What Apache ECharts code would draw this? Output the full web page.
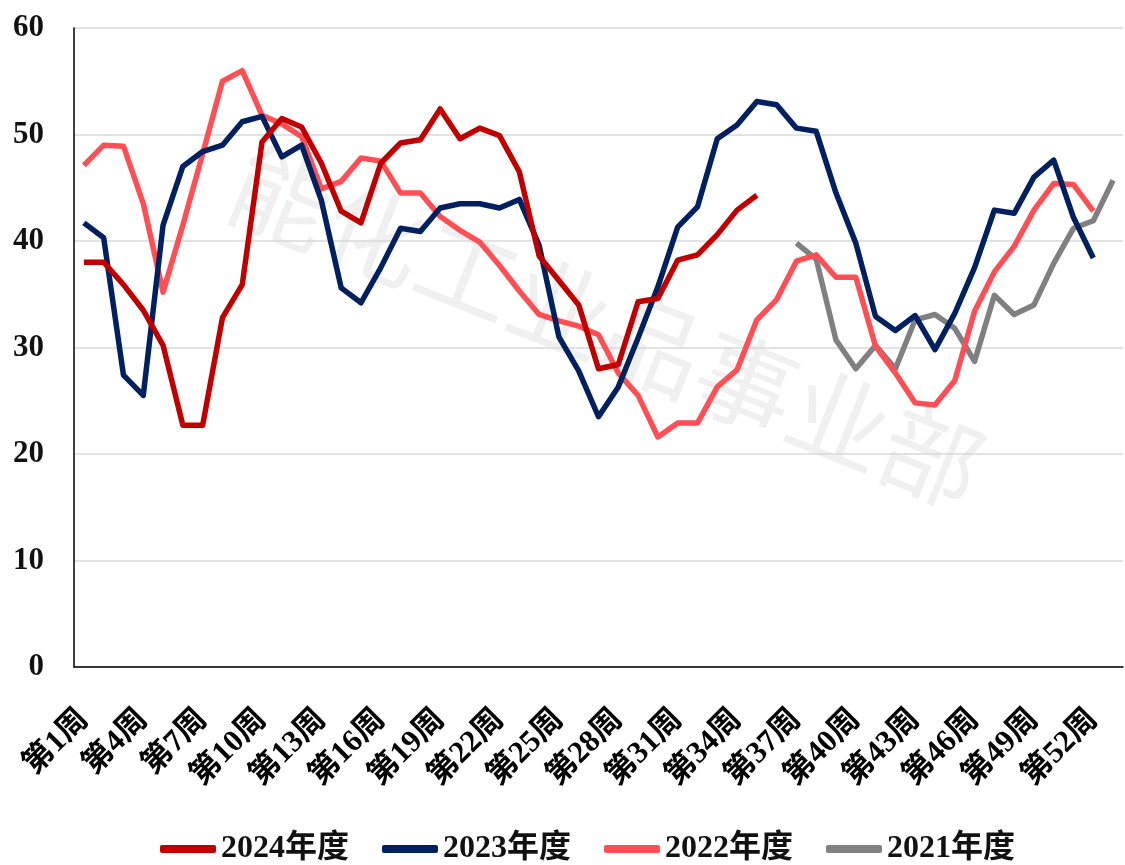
<!DOCTYPE html>
<html>
<head>
<meta charset="utf-8">
<title>周度对比</title>
<script src="https://cdn.jsdelivr.net/npm/echarts@6/dist/echarts.min.js"></script>
<style>
  html, body { margin: 0; padding: 0; background: #fff; }
  #chart { width: 1125px; height: 865px; }
</style>
</head>
<body>
<div id="chart"></div>
<script>
// 第1周 ~ 第53周
var weeks = []
for (var w = 1; w <= 53; w++) weeks.push('第' + w + '周')

var yTicks = [0, 10, 20, 30, 40, 50, 60]

var data2024 = [38.0, 38.0, 35.9, 33.5, 30.2, 22.7, 22.7, 32.8, 35.9, 49.3,
  51.5, 50.7, 47.3, 42.8, 41.7, 47.3, 49.2, 49.5, 52.4, 49.6,
  50.6, 49.9, 46.5, 38.6, 36.3, 34.0, 28.0, 28.4, 34.3, 34.6,
  38.2, 38.7, 40.6, 42.9, 44.3]

var data2023 = [41.7, 40.3, 27.4, 25.5, 41.5, 47.0, 48.4, 49.0, 51.2, 51.7,
  47.9, 49.0, 43.8, 35.6, 34.2, 37.5, 41.2, 40.9, 43.1, 43.5,
  43.5, 43.1, 43.9, 39.6, 31.0, 27.8, 23.5, 26.3, 30.9, 35.7,
  41.3, 43.2, 49.6, 50.9, 53.1, 52.8, 50.6, 50.3, 44.5, 39.8,
  32.9, 31.6, 33.0, 29.8, 33.2, 37.5, 42.9, 42.6, 46.0, 47.6,
  42.2, 38.4]

var data2022 = [47.1, 49.0, 48.9, 43.5, 35.2, 41.5, 48.2, 55.0, 56.0, 51.8,
  51.0, 49.8, 44.9, 45.6, 47.8, 47.5, 44.5, 44.5, 42.3, 41.0,
  39.9, 37.7, 35.3, 33.1, 32.5, 32.0, 31.2, 27.6, 25.5, 21.6,
  22.9, 22.9, 26.3, 27.9, 32.6, 34.5, 38.1, 38.7, 36.6, 36.6,
  30.1, 27.6, 24.8, 24.6, 26.9, 33.4, 37.1, 39.5, 42.9, 45.4,
  45.3, 42.8]

// 2021年度 从第37周开始有数据
var data2021 = [null, null, null, null, null, null, null, null, null, null,
  null, null, null, null, null, null, null, null, null, null,
  null, null, null, null, null, null, null, null, null, null,
  null, null, null, null, null, null,
  39.8, 38.3, 30.7, 28.0, 30.2, 28.0, 32.6, 33.1, 31.8, 28.7,
  34.9, 33.1, 34.0, 37.9, 41.2, 41.9, 45.7]

var seriesNames = ['2024年度', '2023年度', '2022年度', '2021年度']
var seriesColors = ['#C00000', '#002060', '#FF4F55', '#808080']
var seriesData = [data2024, data2023, data2022, data2021]

var font = "'Times New Roman', 'Liberation Serif', 'Noto Sans CJK SC', serif"

var myChart = echarts.init(document.getElementById('chart'))

var series = seriesNames.map(function (name, i) {
  return {
    name: name,
    type: 'line',
    data: seriesData[i],
    showSymbol: false,
    symbol: 'none',
    connectNulls: false,
    lineStyle: { width: 5.5, color: seriesColors[i], join: 'round' },
    itemStyle: { color: seriesColors[i] },
    z: 3 + (seriesNames.length - i)
  }
})

var option = {
  backgroundColor: '#fff',
  animation: false,
  textStyle: { fontFamily: font },
  // 图表边距
  grid: {
    left: 74,
    right: 2,
    top: 28,
    bottom: 198
  },
  // 水印
  graphic: [{
    type: 'text',
    x: 607,
    y: 327,
    rotation: -0.38,
    z: 0,
    silent: true,
    style: {
      text: '能化工业品事业部',
      font: 'normal 100px "Noto Sans CJK SC"',
      fill: '#f0f0f0',
      align: 'center',
      verticalAlign: 'middle'
    }
  }],
  legend: {
    data: seriesNames,
    left: 155,
    top: 828,
    icon: 'roundRect',
    itemWidth: 56,
    itemHeight: 8,
    itemGap: 33,
    textStyle: {
      fontFamily: font,
      fontSize: 32,
      fontWeight: 'bold',
      color: '#111'
    }
  },
  xAxis: {
    type: 'category',
    data: weeks,
    boundaryGap: true,
    axisLine: { lineStyle: { color: '#000', width: 1.5 } },
    axisTick: { show: false },
    axisLabel: {
      interval: 2,
      rotate: 45,
      margin: 48,
      fontFamily: font,
      fontSize: 31,
      fontWeight: 'bold',
      color: '#000'
    },
    splitLine: { show: false }
  },
  yAxis: {
    type: 'value',
    min: yTicks[0],
    max: yTicks[yTicks.length - 1],
    interval: 10,
    axisLine: { show: true, lineStyle: { color: '#000', width: 1.5 } },
    axisTick: { show: false },
    axisLabel: {
      margin: 30,
      fontFamily: font,
      fontSize: 31,
      fontWeight: 'bold',
      color: '#111'
    },
    splitLine: { lineStyle: { color: '#d9d9d9', width: 1.5 } }
  },
  series: series
}

myChart.setOption(option)
</script>
</body>
</html>
